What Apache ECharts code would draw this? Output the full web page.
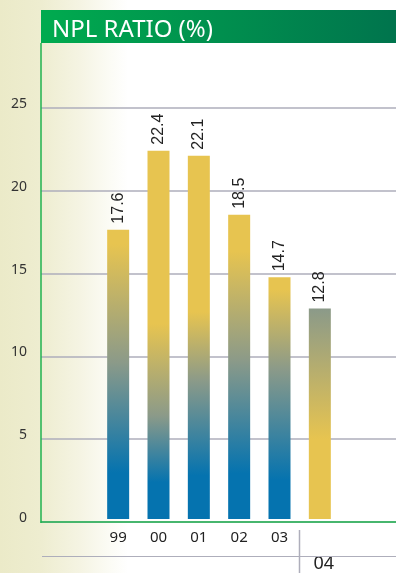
<!DOCTYPE html>
<html>
<head>
<meta charset="utf-8">
<script src="https://cdn.jsdelivr.net/npm/echarts@6/dist/echarts.min.js"></script>
<style>
  html, body { margin: 0; padding: 0; }
  body {
    width: 396px; height: 573px; overflow: hidden;
    background: linear-gradient(to right, #ebeac8 0px, #eeedd0 41px, #f5f4e3 80px, #fbfbf4 108px, #ffffff 128px);
  }
  #chart { width: 396px; height: 573px; }
</style>
</head>
<body>
<div id="chart"></div>
<script>
// NPL ratio by year (%)
const years = ['99', '00', '01', '02', '03', '04'];
const nplRatio = [17.6, 22.4, 22.1, 18.5, 14.7, 12.8];
const yTicks = [0, 5, 10, 15, 20, 25];

// colours
const YELLOW = '#e7c450';
const SLATE = '#8b9a89';
const BLUE = '#0573af';

// per-bar fade points [yellow until, slate at, blue from] as fraction of bar height
const fades = [
  [0.05, 0.46, 0.84],
  [0.47, 0.72, 0.90],
  [0.43, 0.62, 0.88],
  [0.12, 0.48, 0.85],
  [0.05, 0.38, 0.84]
];

function barFill(i) {
  if (i === years.length - 1) {
    return new echarts.graphic.LinearGradient(0, 0, 0, 1, [
      { offset: 0, color: SLATE },
      { offset: 0.62, color: YELLOW },
      { offset: 1, color: YELLOW }
    ]);
  }
  const f = fades[i];
  return new echarts.graphic.LinearGradient(0, 0, 0, 1, [
    { offset: 0, color: YELLOW },
    { offset: f[0], color: YELLOW },
    { offset: f[1], color: SLATE },
    { offset: f[2], color: BLUE },
    { offset: 1, color: BLUE }
  ]);
}

const chart = echarts.init(document.getElementById('chart'), null, { renderer: 'canvas' });

const option = {
  backgroundColor: 'transparent',
  animation: false,
  title: {
    text: 'NPL RATIO (%)',
    left: 47,
    top: 13,
    textStyle: { color: '#ffffff', fontSize: 24, fontWeight: 'normal', fontFamily: 'Noto Sans' },
    z: 10
  },
  graphic: [
    {
      type: 'rect', z: 1,
      shape: { x: 41, y: 10, width: 355, height: 33 },
      style: {
        fill: new echarts.graphic.LinearGradient(0, 0, 1, 0, [
          { offset: 0, color: '#00ab4f' },
          { offset: 1, color: '#00744d' }
        ])
      }
    },
    {
      type: 'line', z: 5,
      shape: { x1: 41, y1: 43, x2: 41, y2: 523 },
      style: { stroke: '#1fb24f', lineWidth: 1.5 }
    },
    {
      type: 'line', z: 5,
      shape: { x1: 42, y1: 556.5, x2: 396, y2: 556.5 },
      style: { stroke: '#aeaebb', lineWidth: 1 }
    },
    {
      type: 'line', z: 5,
      shape: { x1: 299.5, y1: 530, x2: 299.5, y2: 573 },
      style: { stroke: '#aeaebb', lineWidth: 1.5 }
    }
  ],
  grid: [
    { left: 41, right: 0, top: 108, bottom: 51 },
    { left: 98, right: 56, top: 108, bottom: 51 }
  ],
  xAxis: [
    {
      type: 'value', gridIndex: 0, min: 0, max: 1,
      axisLine: { show: true, onZero: false, lineStyle: { color: '#1fb24f', width: 1.5 } },
      axisTick: { show: false }, axisLabel: { show: false }, splitLine: { show: false }
    },
    {
      type: 'category', gridIndex: 1, data: years,
      axisLine: { show: false }, axisTick: { show: false },
      axisLabel: {
        interval: 0,
        margin: 11,
        color: '#222',
        fontFamily: 'Noto Sans',
        fontSize: 15,
        formatter: function (v, idx) {
          return idx === years.length - 1 ? '{big|' + v + '}' : v;
        },
        rich: {
          big: { fontSize: 18, color: '#222', fontFamily: 'Noto Sans', padding: [25, 0, 0, 8] }
        }
      }
    }
  ],
  yAxis: [
    {
      type: 'value', gridIndex: 0, min: 0, max: 25, interval: 5,
      axisLine: { show: false }, axisTick: { show: false },
      axisLabel: {
        margin: 14, color: '#333', fontSize: 14, fontFamily: 'Noto Sans',
        verticalAlign: 'bottom', lineHeight: 8,
        formatter: function (v) { return yTicks.indexOf(v) >= 0 ? String(v) : ''; }
      },
      splitLine: { show: true, lineStyle: { color: '#aeaebb', width: 1.5 } }
    },
    {
      type: 'value', gridIndex: 1, min: 0, max: 25, interval: 5, show: false,
      splitLine: { show: false }
    }
  ],
  series: [
    {
      type: 'bar',
      xAxisIndex: 1, yAxisIndex: 1,
      barWidth: 22,
      z: 3,
      data: nplRatio.map(function (v, i) {
        return { value: v, itemStyle: { color: barFill(i) } };
      }),
      label: {
        show: true,
        position: 'top',
        rotate: 90,
        distance: 6,
        align: 'left',
        verticalAlign: 'middle',
        color: '#222',
        fontSize: 16,
        fontFamily: 'Liberation Sans',
        formatter: function (p) { return p.value.toFixed(1); }
      }
    }
  ]
};

chart.setOption(option);
</script>
</body>
</html>
